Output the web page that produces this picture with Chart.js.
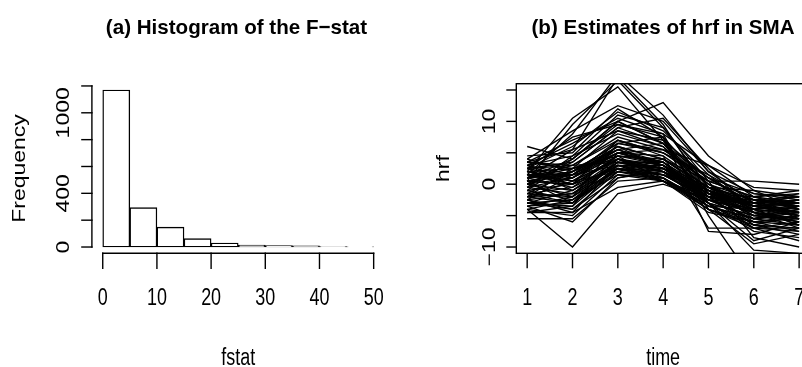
<!DOCTYPE html>
<html><head><meta charset="utf-8">
<script src="https://cdn.jsdelivr.net/npm/chart.js@4.4.1/dist/chart.umd.min.js"></script>
<style>
html,body{margin:0;padding:0;background:#fff;}
#wrap{position:relative;width:802px;height:367px;overflow:hidden;background:#fff;}
canvas{position:absolute;top:0;}
#c1{left:0;width:401px;height:367px;}
#c2{left:401px;width:420px;height:367px;}
</style></head><body>
<div id="wrap"><canvas id="c1" width="401" height="367"></canvas><canvas id="c2" width="420" height="367"></canvas></div>
<script>
// ---------- data ----------
const histTitle = '(a) Histogram of the F\u2212stat';
const histXLabel = 'fstat';
const histYLabel = 'Frequency';
const histBinCenters = [2.5, 7.5, 12.5, 17.5, 22.5, 27.5, 32.5, 37.5, 42.5, 47.5];
const histCounts = [1170, 293, 148, 62, 30, 14, 10, 8, 3, 2];
const histXTicks = [0, 10, 20, 30, 40, 50];
const histXTickLabels = ['0', '10', '20', '30', '40', '50'];
const histYTicks = [0, 200, 400, 600, 800, 1000, 1200];
const histYTickLabels = ['0', '', '400', '', '', '1000', ''];

const hrfTitle = '(b) Estimates of hrf in SMA';
const hrfXLabel = 'time';
const hrfYLabel = 'hrf';
const hrfTime = [1, 2, 3, 4, 5, 6, 7];
const hrfXTicks = [1, 2, 3, 4, 5, 6, 7];
const hrfXTickLabels = ['1', '2', '3', '4', '5', '6', '7'];
const hrfYTicks = [-10, -5, 0, 5, 10, 15];
const hrfYTickLabels = ['\u221210', '', '0', '', '10', ''];
const hrfCurves = [
  [1.5, 0.5, 4.0, 2.5, -1.5, -3.5, -4.0],
  [-2.0, -1.5, 3.0, 1.5, -2.0, -4.5, -3.5],
  [0.5, 2.0, 5.5, 3.5, -1.0, -3.0, -2.5],
  [-3.0, -2.5, 2.5, 1.0, -3.0, -5.0, -5.5],
  [2.5, 1.0, 6.0, 4.0, -0.5, -2.5, -3.0],
  [-1.0, 0.0, 4.5, 3.0, -2.5, -4.0, -4.5],
  [3.5, 3.0, 7.0, 5.0, 0.5, -2.0, -1.5],
  [-3.5, -3.0, 2.0, 0.5, -3.5, -6.0, -6.5],
  [0.0, -1.0, 3.5, 2.0, -1.5, -3.5, -3.0],
  [1.0, 1.5, 5.0, 4.5, -0.5, -3.0, -2.0],
  [-2.5, -4.0, 2.0, 1.5, -2.5, -5.5, -4.0],
  [2.0, 2.5, 4.0, 2.0, -2.0, -3.5, -5.0],
  [-1.5, -2.0, 3.5, 3.5, -1.0, -4.5, -6.0],
  [4.0, 2.0, 6.5, 5.5, 1.0, -1.5, -2.5],
  [-4.0, -5.0, 1.5, 1.0, -4.0, -7.0, -7.5],
  [0.5, 0.0, 4.0, 1.0, -3.0, -5.0, -3.5],
  [3.0, 4.5, 8.0, 6.0, 0.0, -2.5, -3.5],
  [-0.5, 1.0, 5.0, 3.0, -1.5, -2.0, -1.0],
  [1.0, -0.5, 3.0, 2.5, -2.0, -6.5, -5.0],
  [-2.0, -3.0, 4.0, 2.0, -3.5, -4.0, -3.0],
  [2.5, 3.5, 9.0, 6.5, 1.0, -3.0, -4.5],
  [-3.0, -1.0, 3.0, 0.5, -2.5, -3.0, -2.0],
  [1.5, 0.0, 2.5, 1.5, -1.0, -4.0, -6.5],
  [0.0, 2.0, 6.0, 4.0, -1.0, -5.0, -4.0],
  [-1.0, -2.5, 1.5, 0.5, -4.5, -6.0, -5.0],
  [3.0, 1.5, 5.5, 3.0, -0.5, -1.0, -2.0],
  [-2.5, -1.5, 3.5, 2.5, -3.0, -7.5, -8.5],
  [1.0, 3.0, 7.5, 5.5, 0.5, -2.0, -3.0],
  [-4.5, -3.5, 2.5, 1.5, -2.0, -3.5, -4.5],
  [2.0, 1.0, 4.5, 3.5, -2.5, -4.5, -7.0],
  [4.0, 8.5, 12.5, 10.0, 2.0, -3.0, -5.0],
  [2.5, 6.0, 11.5, 8.5, 1.5, -4.0, -6.5],
  [0.5, 9.5, 16.5, 9.0, -0.5, -5.5, -3.5],
  [3.5, 7.0, 10.0, 13.0, 4.5, -1.0, -4.0],
  [1.0, 5.5, 17.0, 9.5, -1.5, -6.0, -7.5],
  [-1.0, 4.0, 9.5, 7.5, -0.5, -3.5, -2.5],
  [2.0, 10.5, 15.5, 7.0, -3.0, -10.5, -11.0],
  [3.0, 6.5, 10.5, 8.0, 3.0, -2.0, -4.0],
  [0.0, 3.5, 9.0, 10.5, 2.5, -4.5, -5.5],
  [-2.0, 2.5, 8.5, 6.0, -2.0, -7.0, -9.0],
  [4.5, 5.0, 12.0, 7.5, -4.0, -9.5, -8.0],
  [1.5, 8.0, 17.5, 11.0, 2.0, -1.5, -2.0],
  [-0.5, 4.5, 11.0, 9.0, 0.5, -8.5, -10.0],
  [6.0, 4.0, 10.0, 6.5, -1.0, -5.0, -6.0],
  [2.5, 7.5, 9.5, 8.0, -5.0, -15.5, -12.0],
  [-4.0, -10.0, -1.5, 0.0, -2.5, -5.5, -4.5],
  [-5.5, -5.5, 0.5, 1.0, -4.0, -6.0, -5.5],
  [-3.5, -6.0, 1.0, 2.0, -3.0, -9.0, -7.0],
  [-4.5, -4.5, -0.5, 0.5, -2.0, -4.0, -3.5],
  [3.0, 0.5, 2.0, 4.0, 0.5, 0.5, 0.0],
  [-1.5, 2.0, 5.0, 5.5, 3.0, -0.5, -1.0],
  [0.0, -2.0, 6.5, 7.5, -7.5, -8.0, -6.0],
  [2.0, 0.0, 7.0, 4.5, -7.0, -7.0, -7.0],
  [-2.5, -4.5, 3.0, 2.0, -1.5, -3.0, -1.5],
  [1.0, 2.5, 4.5, 0.5, -3.5, -5.5, -5.0],
  [3.5, 2.5, 5.5, 6.5, 0.0, -3.5, -3.0],
  [-3.0, -3.5, 5.0, 3.0, -2.0, -2.5, -3.5],
  [0.5, 1.5, 6.0, 2.5, -1.0, -6.5, -8.0],
  [-1.5, -0.5, 4.5, 4.0, -0.5, -4.0, -2.5],
  [2.5, 3.0, 3.5, 2.0, -2.0, -2.5, -4.0],
  [-3.5, -2.0, 2.5, 2.0, -1.0, -3.5, -5.0],
  [0.5, -3.0, 3.0, 1.5, -2.5, -4.5, -6.0],
  [-2.0, 0.5, 4.0, 2.5, -0.5, -2.5, -2.0],
  [1.5, 1.5, 3.0, 3.0, -1.5, -5.0, -4.5],
  [-0.5, -1.5, 2.0, 1.0, -3.5, -5.5, -6.5],
  [2.0, 0.5, 5.0, 3.5, -2.0, -3.0, -3.5],
  [-4.0, -2.5, 3.5, 2.5, -1.0, -4.0, -2.5],
  [1.0, 2.0, 6.5, 5.0, 1.5, -2.5, -5.5],
  [-1.5, -3.0, 2.5, 0.5, -4.0, -6.5, -7.0],
  [0.0, 1.0, 5.5, 3.0, -1.0, -3.5, -4.5],
  [3.5, 5.5, 8.5, 7.0, 1.0, -3.5, -3.0],
  [-2.5, 1.5, 7.0, 5.0, 0.0, -4.5, -5.5],
  [2.5, -1.0, 4.0, 3.0, -3.0, -7.0, -6.0],
  [-3.0, -4.0, 1.0, 2.5, -2.5, -4.0, -5.0],
  [1.0, 4.0, 10.0, 6.5, -1.5, -3.0, -2.5]
];

// ---------- helpers ----------
const FONT = '"Liberation Sans", Arial, Helvetica, sans-serif';
const REG = {size: 23, sx: 0.78, bold: false};
const TTL = {size: 21, sx: 0.98, bold: true};
function txt(ctx, s, x, y, o, rot) {
  if (!s) return;
  ctx.save();
  ctx.font = (o.bold ? 'bold ' : '') + o.size + 'px ' + FONT;
  ctx.fillStyle = '#000';
  ctx.textAlign = 'center';
  ctx.textBaseline = 'alphabetic';
  ctx.translate(x, y);
  if (rot) { ctx.rotate(-Math.PI / 2); ctx.scale(1, o.sx); }
  else { ctx.scale(o.sx, 1); }
  ctx.fillText(s, 0, 0);
  ctx.restore();
}
function seg(ctx, x1, y1, x2, y2) {
  ctx.beginPath(); ctx.moveTo(x1, y1); ctx.lineTo(x2, y2); ctx.stroke();
}
const AXW = 1.4;

// ---------- left: histogram ----------
const histAxes = {
  id: 'histAxes',
  afterDraw(chart) {
    const {ctx, chartArea: a, scales: {x, y}} = chart;
    ctx.save();
    ctx.strokeStyle = '#000'; ctx.lineWidth = AXW; ctx.lineCap = 'square';
    const yb = a.bottom;
    seg(ctx, x.getPixelForValue(histXTicks[0]), yb, x.getPixelForValue(histXTicks[histXTicks.length - 1]), yb);
    histXTicks.forEach((v, i) => {
      const px = x.getPixelForValue(v);
      seg(ctx, px, yb, px, yb + 15);
      txt(ctx, histXTickLabels[i], px, 305, REG);
    });
    const xl = a.left;
    seg(ctx, xl, y.getPixelForValue(histYTicks[0]), xl, y.getPixelForValue(histYTicks[histYTicks.length - 1]));
    histYTicks.forEach((v, i) => {
      const py = y.getPixelForValue(v);
      seg(ctx, xl, py, xl - 10, py);
      txt(ctx, histYTickLabels[i], 68.5, py, REG, true);
    });
    ctx.restore();
    txt(ctx, histTitle, 236.5, 34.3, TTL);
    txt(ctx, histXLabel, (a.left + a.right) / 2, 365, REG);
    txt(ctx, histYLabel, 25, (a.top + a.bottom) / 2, REG, true);
  }
};

new Chart(document.getElementById('c1'), {
  type: 'bar',
  data: {
    datasets: [{
      data: histBinCenters.map((c, i) => ({x: c, y: histCounts[i]})),
      backgroundColor: '#ffffff',
      borderColor: '#000000',
      borderWidth: 1.4,
      borderSkipped: false,
      barPercentage: 1,
      categoryPercentage: 1,
      grouped: false
    }]
  },
  options: {
    responsive: false,
    animation: false,
    devicePixelRatio: 1,
    layout: {padding: {left: 91.9, right: 16.5, top: 83.7, bottom: 113.7}},
    plugins: {legend: {display: false}, tooltip: {enabled: false}, title: {display: false}},
    scales: {
      x: {type: 'linear', min: -2, max: 52, display: false, offset: false},
      y: {type: 'linear', min: -46.8, max: 1216.8, display: false}
    }
  },
  plugins: [histAxes]
});

// ---------- right: hrf curves ----------
const OFF = 401;
const hrfAxes = {
  id: 'hrfAxes',
  afterDraw(chart) {
    const {ctx, chartArea: a, scales: {x, y}} = chart;
    ctx.save();
    ctx.strokeStyle = '#000'; ctx.lineWidth = AXW;
    ctx.strokeRect(a.left, a.top, a.right - a.left, a.bottom - a.top);
    hrfXTicks.forEach((v, i) => {
      const px = x.getPixelForValue(v);
      seg(ctx, px, a.bottom, px, a.bottom + 15);
      txt(ctx, hrfXTickLabels[i], px, 305, REG);
    });
    hrfYTicks.forEach((v, i) => {
      const py = y.getPixelForValue(v);
      seg(ctx, a.left, py, a.left - 10, py);
      txt(ctx, hrfYTickLabels[i], 495 - OFF, py, REG, true);
    });
    ctx.restore();
    txt(ctx, hrfTitle, 663 - OFF, 34.3, TTL);
    txt(ctx, hrfXLabel, (a.left + a.right) / 2, 365, REG);
    txt(ctx, hrfYLabel, 449 - OFF, (a.top + a.bottom) / 2, REG, true);
  }
};

new Chart(document.getElementById('c2'), {
  type: 'line',
  data: {
    datasets: hrfCurves.map(c => ({
      data: c.map((v, i) => ({x: hrfTime[i], y: v})),
      borderColor: '#000000',
      borderWidth: 1.35,
      pointRadius: 0,
      fill: false,
      tension: 0
    }))
  },
  options: {
    responsive: false,
    animation: false,
    devicePixelRatio: 1,
    layout: {padding: {left: 115.3, right: 11, top: 83.7, bottom: 113.7}},
    plugins: {legend: {display: false}, tooltip: {enabled: false}, title: {display: false}},
    scales: {
      x: {type: 'linear', min: 0.76, max: 7.24, display: false},
      y: {type: 'linear', min: -11, max: 16, display: false}
    }
  },
  plugins: [hrfAxes]
});
</script>
</body></html>
